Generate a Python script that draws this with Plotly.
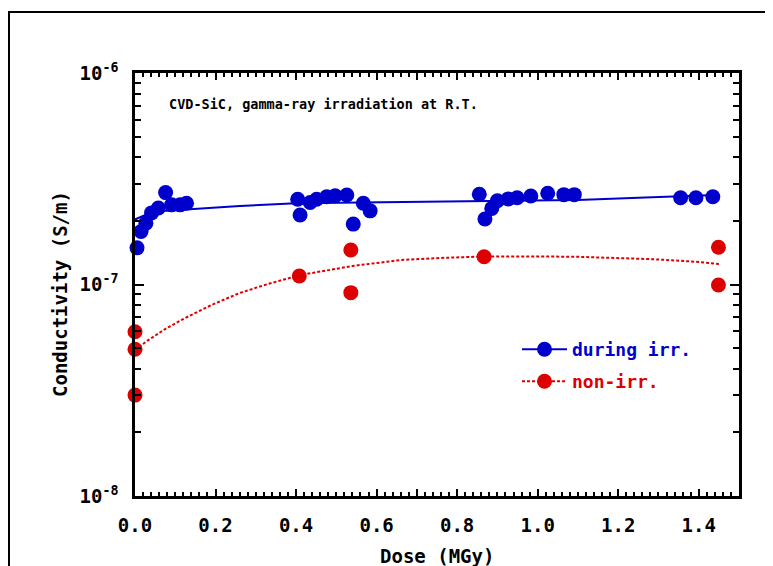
import plotly.graph_objects as go

# ---- data ----
dose_during = [0.005, 0.015, 0.027, 0.041, 0.058, 0.076, 0.091, 0.112, 0.128,
               0.404, 0.410, 0.435, 0.451, 0.476, 0.497, 0.526, 0.542, 0.567, 0.584,
               0.855, 0.869, 0.886, 0.900, 0.927, 0.949, 0.983, 1.025, 1.065, 1.091,
               1.355, 1.393, 1.435]
cond_during = [1.49e-7, 1.78e-7, 1.95e-7, 2.18e-7, 2.30e-7, 2.72e-7, 2.38e-7, 2.38e-7, 2.42e-7,
               2.53e-7, 2.13e-7, 2.44e-7, 2.53e-7, 2.60e-7, 2.63e-7, 2.65e-7, 1.93e-7, 2.42e-7, 2.23e-7,
               2.67e-7, 2.04e-7, 2.29e-7, 2.49e-7, 2.54e-7, 2.57e-7, 2.62e-7, 2.70e-7, 2.66e-7, 2.66e-7,
               2.57e-7, 2.57e-7, 2.60e-7]

fit_during_x = [0.0, 0.03, 0.06, 0.15, 0.26, 0.40, 0.66, 0.90, 1.10, 1.25, 1.44]
fit_during_y = [2.03e-7, 2.15e-7, 2.22e-7, 2.28e-7, 2.35e-7, 2.42e-7, 2.46e-7, 2.48e-7, 2.51e-7, 2.57e-7, 2.65e-7]

dose_non = [0.0, 0.0, 0.0, 0.408, 0.536, 0.536, 0.867, 1.449, 1.449]
cond_non = [5.98e-8, 4.94e-8, 3.00e-8, 1.097e-7, 1.456e-7, 9.15e-8, 1.353e-7, 1.50e-7, 9.95e-8]

fit_non_x = [0.0, 0.03, 0.075, 0.125, 0.19, 0.26, 0.33, 0.41, 0.54, 0.66, 0.76, 0.87, 1.09, 1.29, 1.39, 1.45]
fit_non_y = [4.90e-8, 5.41e-8, 6.16e-8, 6.95e-8, 8.00e-8, 9.12e-8, 1.005e-7, 1.109e-7, 1.223e-7,
             1.306e-7, 1.335e-7, 1.357e-7, 1.354e-7, 1.316e-7, 1.282e-7, 1.250e-7]

x_tickvals = [0.0, 0.1, 0.2, 0.3, 0.4, 0.5, 0.6, 0.7, 0.8, 0.9, 1.0, 1.1, 1.2, 1.3, 1.4, 1.5]
x_ticktext = ["0.0", "", "0.2", "", "0.4", "", "0.6", "", "0.8", "", "1.0", "", "1.2", "", "1.4", ""]
x_minor = [i * 0.02 for i in range(76)]
y_tickvals = [1e-8, 1e-7, 1e-6]
y_ticktext = ["10<sup>-8</sup>", "10<sup>-7</sup>", "10<sup>-6</sup>"]
y_minor = [m * 1e-8 for m in range(2, 10)] + [m * 1e-7 for m in range(2, 10)]

BLUE = "#0000CD"
RED = "#DD0000"
FONT = "DejaVu Sans Mono"

fig = go.Figure()
fig.add_trace(go.Scatter(x=fit_during_x, y=fit_during_y, mode="lines",
                         line=dict(color=BLUE, width=2), showlegend=False, cliponaxis=False))
fig.add_trace(go.Scatter(x=fit_non_x, y=fit_non_y, mode="lines",
                         line=dict(color=RED, width=2, dash="3px,2px"), showlegend=False, cliponaxis=False))
fig.add_trace(go.Scatter(x=dose_during, y=cond_during, mode="markers",
                         marker=dict(color=BLUE, size=15), showlegend=False, cliponaxis=False))
fig.add_trace(go.Scatter(x=dose_non, y=cond_non, mode="markers",
                         marker=dict(color=RED, size=15), showlegend=False, cliponaxis=False))
# legend entries
fig.add_trace(go.Scatter(x=[None], y=[None], mode="lines+markers",
                         name='<span style="color:#0000CD">during irr.</span>',
                         line=dict(color=BLUE, width=2), marker=dict(color=BLUE, size=15),
                         legend="legend"))
fig.add_trace(go.Scatter(x=[None], y=[None], mode="lines+markers",
                         name='<span style="color:#DD0000">non-irr.</span>',
                         line=dict(color=RED, width=2, dash="3px,2px"), marker=dict(color=RED, size=15),
                         legend="legend2"))

OFF = 8  # page body margin
W, H = 773 - OFF, 566 - OFF  # 765 x 558
L, T = 135 - OFF, 73 - OFF
R = W - (739 - OFF)
B = H - (496 - OFF)
pw, ph = W - L - R, H - T - B

def px(xr):
    return (xr - OFF - L) / pw

def py(yr):
    return (H - B - (yr - OFF)) / ph

axis_common = dict(showline=True, linecolor="black", linewidth=2.5, mirror="ticks",
                   ticks="inside", tickcolor="black", showgrid=False, zeroline=False,
                   tickfont=dict(family=FONT, size=19, color="black", weight="bold"))

fig.update_layout(
    width=W, height=H,
    margin=dict(l=L, r=R, t=T, b=B),
    paper_bgcolor="white", plot_bgcolor="white",
    font=dict(family=FONT, color="black"),
    xaxis=dict(range=[0, 1.5], tickmode="array", tickvals=x_tickvals, ticktext=x_ticktext,
               ticklen=7, tickwidth=2, ticklabelstandoff=10,
               minor=dict(tickmode="array", tickvals=x_minor, ticks="inside", ticklen=4,
                          tickwidth=1.5, tickcolor="black"),
               **axis_common),
    yaxis=dict(type="log", range=[-8, -6], tickmode="array", tickvals=y_tickvals, ticktext=y_ticktext,
               ticklen=9, tickwidth=2, ticklabelstandoff=10,
               minor=dict(tickmode="array", tickvals=y_minor, ticks="inside", ticklen=6,
                          tickwidth=2, tickcolor="black"),
               **axis_common),
    legend=dict(x=px(517), y=py(331), xanchor="left", yanchor="top", bgcolor="rgba(0,0,0,0)",
                font=dict(family=FONT, size=18, weight="bold"), itemwidth=45),
    legend2=dict(x=px(517), y=py(363), xanchor="left", yanchor="top", bgcolor="rgba(0,0,0,0)",
                 font=dict(family=FONT, size=18, weight="bold"), itemwidth=45),
    shapes=[dict(type="rect", xref="paper", yref="paper",
                 x0=px(9), x1=px(800), y0=py(620), y1=py(12),
                 line=dict(color="black", width=2), layer="above")],
    annotations=[
        dict(text="CVD-SiC, gamma-ray irradiation at R.T.", xref="paper", yref="paper",
             x=px(167), y=py(104), xanchor="left", yanchor="middle", showarrow=False,
             font=dict(family=FONT, size=13.5, color="black", weight="bold")),
        dict(text="Conductivity (S/m)", xref="paper", yref="paper",
             x=px(60), y=py(294), xanchor="center", yanchor="middle", textangle=-90,
             showarrow=False, font=dict(family=FONT, size=19, color="black", weight="bold")),
        dict(text="Dose (MGy)", xref="paper", yref="paper",
             x=px(437), y=py(556), xanchor="center", yanchor="middle",
             showarrow=False, font=dict(family=FONT, size=19, color="black", weight="bold")),
    ],
)

fig.write_html("out.html")
